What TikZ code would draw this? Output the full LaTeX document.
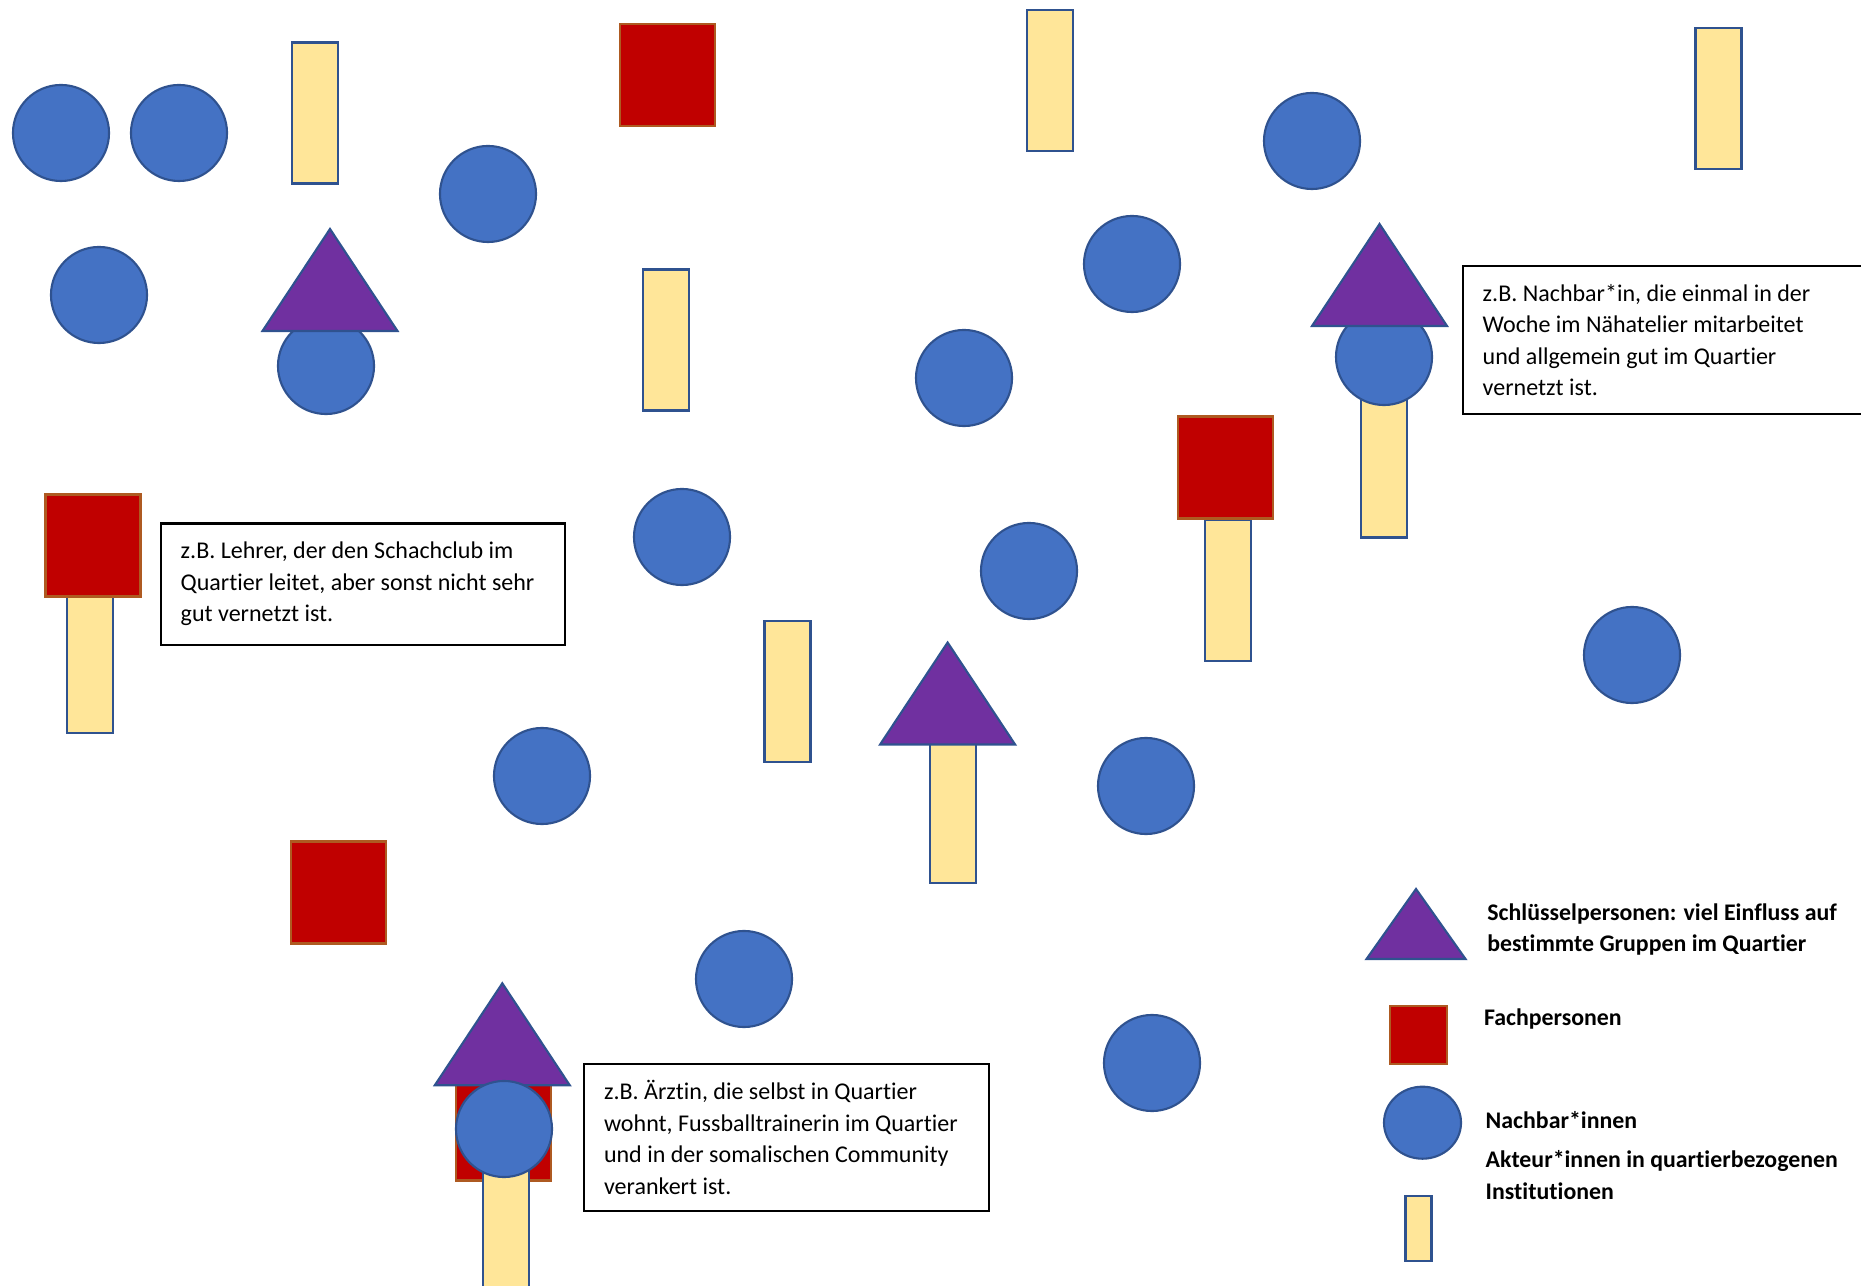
\documentclass[tikz,border=0pt]{standalone}
\usepackage{fontspec}
\setmainfont{Carlito}[Ligatures=NoCommon]
\usetikzlibrary{shapes.geometric}
\definecolor{nbblue}{HTML}{4472C4}
\definecolor{nbline}{HTML}{2F528F}
\definecolor{instyellow}{HTML}{FFE699}
\definecolor{fachred}{HTML}{C00000}
\definecolor{fachline}{HTML}{AE5A21}
\definecolor{keypurple}{HTML}{7030A0}

\begin{document}
\begin{tikzpicture}[x=0.01cm,y=-0.01cm,
    nachbar/.style={circle,fill=nbblue,draw=nbline,line width=0.6pt,minimum size=0.96cm,inner sep=0pt},
    inst/.style={rectangle,fill=instyellow,draw=nbline,line width=0.6pt,minimum width=0.46cm,minimum height=1.41cm,inner sep=0pt},
    fach/.style={rectangle,fill=fachred,draw=fachline,line width=0.6pt,minimum width=0.95cm,minimum height=1.02cm,inner sep=0pt},
    schluessel/.style={fill=keypurple,draw=nbline,line width=0.6pt},
    infobox/.style={rectangle,draw=black,line width=0.6pt,fill=white,anchor=north west,inner sep=0pt},
    boxtext/.style={anchor=west,align=left,inner sep=0pt,font=\fontsize{6.83}{8.96}\selectfont},
    legtext/.style={anchor=base west,inner sep=0pt,font=\fontsize{6.78}{8.8}\selectfont\bfseries}]
    \useasboundingbox (0,0) rectangle (1861,1286);
    \clip (0,0) rectangle (1861,1286);
    \node[nachbar] (c1) at (61,133) {};
    \node[nachbar] (c2) at (179,133) {};
    \node[nachbar] (c3) at (99,295) {};
    \node[nachbar] (c5) at (488,194) {};
    \node[nachbar] (c6) at (1312,141) {};
    \node[nachbar] (c7) at (1132,264) {};
    \node[nachbar] (c8) at (964,378) {};
    \node[nachbar] (c10) at (682,537) {};
    \node[nachbar] (c11) at (1029,571) {};
    \node[nachbar] (c12) at (1632,655) {};
    \node[nachbar] (c13) at (542,776) {};
    \node[nachbar] (c14) at (1146,786) {};
    \node[nachbar] (c15) at (744,979) {};
    \node[nachbar] (c16) at (1152,1063) {};
    \node[inst] (y1) at (315,113) {};
    \node[inst] (y2) at (1050,80.5) {};
    \node[inst] (y3) at (1718.5,98.5) {};
    \node[inst] (y4) at (666,340) {};
    \node[inst] (y8) at (787.5,691.5) {};
    \node[fach] (r1) at (667.5,75.3) {};
    \node[fach] (r4) at (338.5,892.5) {};
    \node[nachbar] (c4) at (326,366) {};
    \coordinate (t1) at (330,229);
    \draw[schluessel] (t1) -- ++(67.5,102) -- ++(-135,0) -- cycle;
    \node[inst] (y5) at (1384,467) {};
    \node[nachbar] (c9) at (1384,357) {};
    \coordinate (t2) at (1379.5,224);
    \draw[schluessel] (t2) -- ++(67.5,102) -- ++(-135,0) -- cycle;
    \node[inst] (y6) at (1228,590.5) {};
    \node[fach] (r2) at (1225.4,467.5) {};
    \node[inst] (y7) at (90,662.6) {};
    \node[fach] (r3) at (93,545.5) {};
    \node[inst] (y9) at (953,812.6) {};
    \coordinate (t3) at (947.6,642.5);
    \draw[schluessel] (t3) -- ++(67.5,102) -- ++(-135,0) -- cycle;
    \node[fach] (r5) at (503.4,1129.5) {};
    \node[inst] (y10) at (506,1241) {};
    \coordinate (t4) at (502.3,983.3);
    \draw[schluessel] (t4) -- ++(67.5,102) -- ++(-135,0) -- cycle;
    \node[nachbar] (c17) at (504,1129) {};
    \node[infobox,minimum width=4.5cm,minimum height=1.48cm] (b1) at (1462,265) {};
    \node[boxtext] (b1text) at ([xshift=0.2cm]b1.west) {z.B. Nachbar*in, die einmal in der\\Woche im Nähatelier mitarbeitet\\und allgemein gut im Quartier\\vernetzt ist.};
    \node[infobox,minimum width=4.035cm,minimum height=1.21cm] (b2) at (160,522.5) {};
    \node[boxtext] (b2text) at ([xshift=0.2cm]b2.west) {z.B. Lehrer, der den Schachclub im\\Quartier leitet, aber sonst nicht sehr\\gut vernetzt ist.};
    \node[infobox,minimum width=4.045cm,minimum height=1.47cm] (b3) at (583.3,1062.7) {};
    \node[boxtext] (b3text) at ([xshift=0.2cm]b3.west) {z.B. Ärztin, die selbst in Quartier\\wohnt, Fussballtrainerin im Quartier\\und in der somalischen Community\\verankert ist.};
    \coordinate (lt) at (1416,889);
    \draw[schluessel] (lt) -- ++(49.5,70) -- ++(-99,0) -- cycle;
    \node[fach,minimum width=0.57cm,minimum height=0.58cm] (lr) at (1418.3,1035.4) {};
    \node[ellipse,fill=nbblue,draw=nbline,line width=0.6pt,minimum width=0.77cm,minimum height=0.72cm,inner sep=0pt] (lc) at (1422.5,1122.7) {};
    \node[inst,minimum width=0.26cm,minimum height=0.65cm] (ly) at (1418.5,1228.7) {};
    \node[legtext] (l1a) at (1486.7,920.7) {Schlüsselpersonen: viel Einfluss auf};
    \node[legtext] (l1b) at (1486.7,951.7) {bestimmte Gruppen im Quartier};
    \node[legtext] (l2) at (1483.3,1025.7) {Fachpersonen};
    \node[legtext] (l3) at (1485,1128.3) {Nachbar*innen};
    \node[legtext] (l4a) at (1485,1167.7) {Akteur*innen in quartierbezogenen};
    \node[legtext] (l4b) at (1485,1199.3) {Institutionen};
\end{tikzpicture}
\end{document}
